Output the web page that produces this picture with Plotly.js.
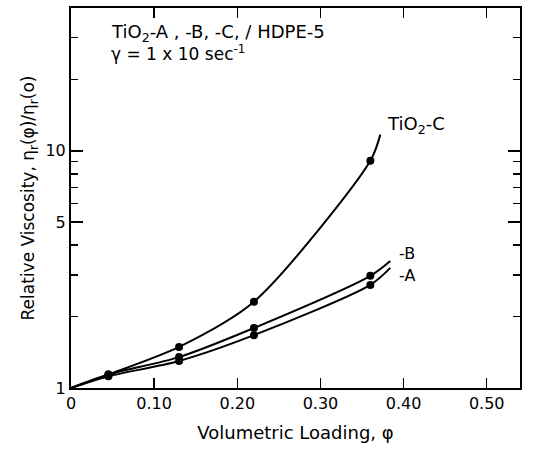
<!DOCTYPE html>
<html><head><meta charset="utf-8">
<script src="https://cdn.plot.ly/plotly-3.0.1.min.js"></script>
<style>html,body{margin:0;padding:0;background:#fff}#c{width:533px;height:450px}</style>
</head><body><div id="c"></div>
<script>
// measured points
const phiPts = [0.045, 0.13, 0.22, 0.36];
const visA = [1.12, 1.30, 1.67, 2.72];
const visB = [1.14, 1.35, 1.79, 2.97];
const visC = [1.14, 1.49, 2.31, 9.07];
// drawn curves (origin, points, curve end)
const phiCurveAB = [0, 0.045, 0.13, 0.22, 0.36, 0.384];
const phiCurveC = [0, 0.045, 0.13, 0.22, 0.36, 0.372];
const curveA = [1, 1.12, 1.30, 1.67, 2.72, 3.21];
const curveB = [1, 1.14, 1.35, 1.79, 2.97, 3.43];
const curveC = [1, 1.14, 1.49, 2.31, 9.07, 11.7];
const xTicks = [0, 0.1, 0.2, 0.3, 0.4, 0.5];
const xTickText = ['0', '0.10', '0.20', '0.30', '0.40', '0.50'];
const yTicks = [1, 5, 10];
const yTickText = ['1', '5', '10'];
const yMinor = [2, 3, 4, 6, 7, 8, 9, 20, 30];

const line = {color: '#000', width: 2, shape: 'spline', smoothing: 0.8};
const mk = {color: '#000', size: 8, symbol: 'circle'};
const traces = [
  {x: phiCurveAB, y: curveA, mode: 'lines', line: line, hoverinfo: 'skip'},
  {x: phiCurveAB, y: curveB, mode: 'lines', line: line, hoverinfo: 'skip'},
  {x: phiCurveC, y: curveC, mode: 'lines', line: line, hoverinfo: 'skip'},
  {x: phiPts, y: visA, mode: 'markers', marker: mk},
  {x: phiPts, y: visB, mode: 'markers', marker: mk},
  {x: phiPts, y: visC, mode: 'markers', marker: mk}
];
const font = {family: 'DejaVu Sans, Liberation Sans, sans-serif', color: '#000', size: 16};
const layout = {
  width: 533, height: 450,
  margin: {l: 71, r: 13, t: 8, b: 62},
  paper_bgcolor: '#fff', plot_bgcolor: '#fff',
  showlegend: false,
  font: font,
  xaxis: {
    range: [0, 0.54], tickmode: 'array', tickvals: xTicks, ticktext: xTickText,
    ticks: 'inside', ticklen: 10, tickwidth: 1.5, tickcolor: '#000',
    showline: true, linecolor: '#000', linewidth: 2, mirror: 'ticks',
    showgrid: false, zeroline: false, tickfont: {size: 16},
    title: {text: 'Volumetric Loading, φ', font: {size: 18}, standoff: 14}
  },
  yaxis: {
    type: 'log', range: [0, Math.log10(40)], tickmode: 'array', tickvals: yTicks, ticktext: yTickText,
    ticks: 'inside', ticklen: 12, tickwidth: 1.5, tickcolor: '#000',
    minor: {tickmode: 'array', tickvals: yMinor, ticks: 'inside', ticklen: 7, tickcolor: '#000', showgrid: false},
    showline: true, linecolor: '#000', linewidth: 2, mirror: 'ticks',
    showgrid: false, zeroline: false, tickfont: {size: 16},
    title: {text: 'Relative Viscosity, η<sub>r</sub>(φ)/η<sub>r</sub>(o)', font: {size: 17}, standoff: 6}
  },
  annotations: [
    {xref: 'paper', yref: 'paper', x: 0.085, y: 0.934, xanchor: 'left', yanchor: 'middle', showarrow: false,
     text: 'TiO<sub>2</sub>-A , -B, -C, / HDPE-5', font: {size: 18}},
    {xref: 'paper', yref: 'paper', x: 0.085, y: 0.882, xanchor: 'left', yanchor: 'middle', showarrow: false,
     text: 'γ = 1 x 10 sec<sup>-1</sup>', font: {size: 17}},
    {xref: 'x', yref: 'y', x: 0.378, y: Math.log10(12.9), xanchor: 'left', yanchor: 'middle', showarrow: false,
     text: 'TiO<sub>2</sub>-C', font: {size: 18}},
    {xref: 'x', yref: 'y', x: 0.392, y: Math.log10(3.7), xanchor: 'left', yanchor: 'middle', showarrow: false,
     text: '-B', font: {size: 16}},
    {xref: 'x', yref: 'y', x: 0.392, y: Math.log10(2.98), xanchor: 'left', yanchor: 'middle', showarrow: false,
     text: '-A', font: {size: 16}}
  ]
};
Plotly.newPlot('c', traces, layout, {displayModeBar: false, staticPlot: true});
</script></body></html>
